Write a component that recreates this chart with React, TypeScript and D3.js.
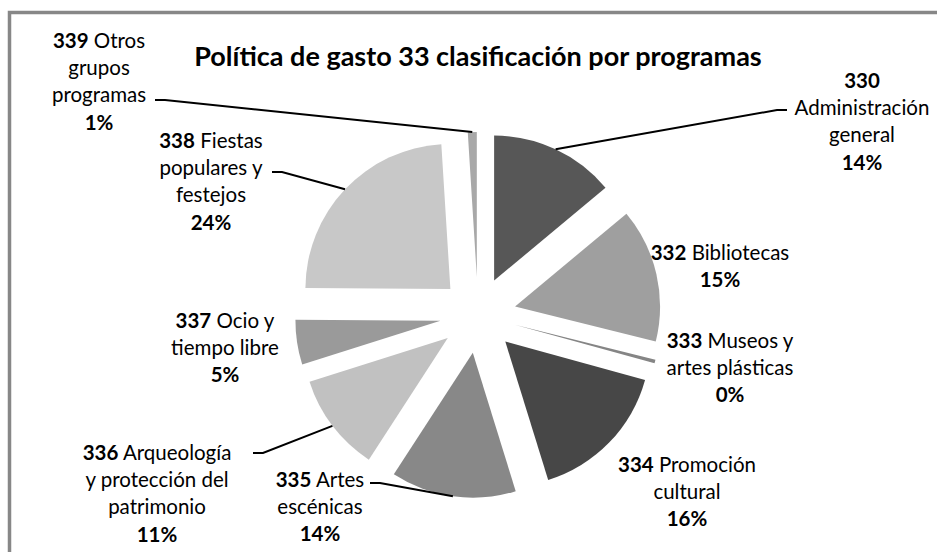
import React from "react";
import * as d3 from "d3";

const W = 937;
const H = 552;

const TITLE = "Política de gasto 33 clasificación por programas";

const codes = ["330", "332", "333", "334", "335", "336", "337", "338", "339"];
const labelLines: string[][] = [
  ["330", "Administración", "general"],
  ["332 Bibliotecas"],
  ["333 Museos y", "artes plásticas"],
  ["334 Promoción", "cultural"],
  ["335 Artes", "escénicas"],
  ["336 Arqueología", "y protección del", "patrimonio"],
  ["337 Ocio y", "tiempo libre"],
  ["338 Fiestas", "populares y", "festejos"],
  ["339 Otros", "grupos", "programas"],
];
const values = [14, 15, 0.4, 16, 14, 11, 5, 24, 1];
const colors = ["#575757", "#9f9f9f", "#858585", "#474747", "#888888", "#c1c1c1", "#9a9a9a", "#c8c8c8", "#a8a8a8"];

// label layout (center x, first baseline)
const labelCx = [862, 720, 730, 687, 320, 157, 225, 211, 99];
const labelY0 = [88, 260, 348, 472, 487, 460, 328, 148, 48];
// leader anchors [x, y, elbowDx] or null
const leaders: ([number, number, number] | null)[] = [
  [787, 110, -10],
  null,
  null,
  null,
  [370, 483, 10],
  [253, 453, 10],
  null,
  [272, 172, 10],
  [155, 100, 10],
];

const CX = 478;
const CY = 315;
const R = 145;
const EXPLODE = 38;
const LH = 27.2;
const FONT = "Lato, 'Open Sans', sans-serif";

export default function App() {
  const pie = d3.pie<number>().sort(null).value((d) => d);
  const arcs = pie(values);
  const arcGen = d3.arc<d3.PieArcDatum<number>>().innerRadius(0).outerRadius(R);
  const total = d3.sum(values);

  return (
    <div style={{ position: "fixed", left: 0, top: 0 }}>
      <svg width={W} height={H} style={{ display: "block", background: "#fff" }}>
        <rect x={9.5} y={12.5} width={W + 20} height={H + 20} fill="#fff" stroke="#878787" strokeWidth={3.5} />
        <text x={478} y={66} textAnchor="middle" fontFamily={FONT} fontWeight={700} fontSize={27} fill="#000">
          {TITLE}
        </text>
        {arcs.map((a, i) => {
          const mid = (a.startAngle + a.endAngle) / 2;
          const ox = CX + Math.sin(mid) * EXPLODE;
          const oy = CY - Math.cos(mid) * EXPLODE;
          return (
            <path key={codes[i]} d={arcGen(a) || ""} transform={`translate(${ox},${oy})`} fill={colors[i]} />
          );
        })}
        {arcs.map((a, i) => {
          const ld = leaders[i];
          if (!ld) return null;
          const mid = (a.startAngle + a.endAngle) / 2;
          const px = CX + Math.sin(mid) * (EXPLODE + R);
          const py = CY - Math.cos(mid) * (EXPLODE + R);
          const [ax, ay, edx] = ld;
          return (
            <polyline
              key={"l" + codes[i]}
              points={`${px},${py} ${ax + edx},${ay} ${ax},${ay}`}
              fill="none"
              stroke="#000"
              strokeWidth={2}
            />
          );
        })}
        {labelLines.map((lines, i) => {
          const pct = Math.round((values[i] / total) * 100) + "%";
          const all = [...lines, pct];
          return (
            <text key={"t" + codes[i]} fontFamily={FONT} fontSize={20.5} textAnchor="middle" fill="#000">
              {all.map((ln, j) => {
                const y = labelY0[i] + j * LH;
                if (j === all.length - 1) {
                  return (
                    <tspan key={j} x={labelCx[i]} y={y} fontWeight={700}>
                      {ln}
                    </tspan>
                  );
                }
                if (j === 0 && ln.startsWith(codes[i])) {
                  const rest = ln.slice(codes[i].length);
                  return (
                    <tspan key={j} x={labelCx[i]} y={y}>
                      <tspan fontWeight={700}>{codes[i]}</tspan>
                      {rest}
                    </tspan>
                  );
                }
                return (
                  <tspan key={j} x={labelCx[i]} y={y}>
                    {ln}
                  </tspan>
                );
              })}
            </text>
          );
        })}
      </svg>
    </div>
  );
}
